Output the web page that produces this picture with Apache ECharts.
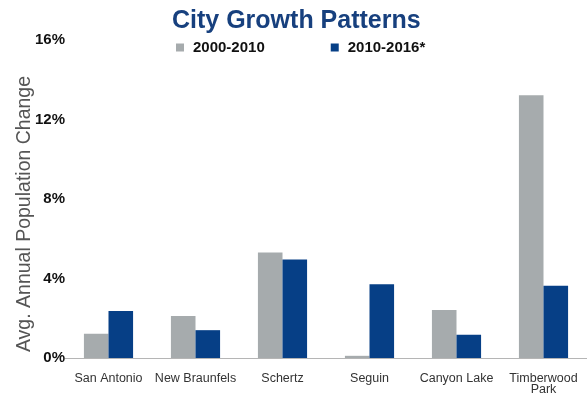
<!DOCTYPE html>
<html>
<head>
<meta charset="utf-8">
<script src="https://cdn.jsdelivr.net/npm/echarts@6/dist/echarts.min.js"></script>
<style>
  html, body { margin: 0; padding: 0; background: #fff; }
  #chart { width: 587px; height: 394px; }
</style>
</head>
<body>
<div id="chart"></div>
<script>
// City growth: average annual population change by city (%)
const cities = ['San Antonio', 'New Braunfels', 'Schertz', 'Seguin', 'Canyon Lake', 'Timberwood\nPark'];
const growth2000to2010 = [1.22, 2.11, 5.31, 0.11, 2.41, 13.22];
const growth2010to2016 = [2.36, 1.40, 4.96, 3.71, 1.17, 3.63];
const seriesNames = ['2000-2010', '2010-2016*'];
const yTicks = { min: 0, max: 16, interval: 4 };

const chart = echarts.init(document.getElementById('chart'), null, { renderer: 'canvas' });

const font = 'Liberation Sans, Arial, Helvetica, sans-serif';

chart.setOption({
  animation: false,
  textStyle: { fontFamily: font },
  title: {
    text: 'City Growth Patterns',
    left: 167,
    top: 4,
    textStyle: { fontFamily: font, fontSize: 25, fontWeight: 'bold', color: '#17407e' }
  },
  legend: {
    left: 171,
    top: 35,
    itemWidth: 8,
    itemHeight: 8,
    itemGap: 66,
    icon: 'rect',
    textStyle: { fontFamily: font, fontSize: 15, fontWeight: 'bold', color: '#111', padding: [0, 0, 0, 4] },
    data: seriesNames
  },
  grid: { left: 65, right: 0, top: 40, bottom: 36, outerBoundsMode: 'none', containLabel: false },
  xAxis: {
    type: 'category',
    data: cities,
    axisLine: { show: true, lineStyle: { color: '#b5b5b5', width: 1 } },
    axisTick: { show: false },
    axisLabel: {
      fontFamily: font,
      fontSize: 12.5,
      color: '#333',
      margin: 15,
      lineHeight: 11,
      interval: 0
    }
  },
  yAxis: {
    type: 'value',
    min: yTicks.min,
    max: yTicks.max,
    interval: yTicks.interval,
    name: 'Avg. Annual Population Change',
    nameLocation: 'middle',
    nameGap: 30,
    nameMoveOverlap: false,
    nameTextStyle: { fontFamily: font, fontSize: 19.5, color: '#555', padding: [0, 30, 0, 0] },
    axisLine: { show: false },
    axisTick: { show: false },
    splitLine: { show: false },
    axisLabel: {
      fontFamily: font,
      fontSize: 15,
      fontWeight: 'bold',
      color: '#111',
      margin: 0,
      formatter: '{value}%'
    }
  },
  series: [
    {
      name: seriesNames[0],
      type: 'bar',
      data: growth2000to2010,
      barGap: '0%',
      barCategoryGap: '43.5%',
      itemStyle: { color: '#a6abad' }
    },
    {
      name: seriesNames[1],
      type: 'bar',
      data: growth2010to2016,
      itemStyle: { color: '#063f86' }
    }
  ]
});
</script>
</body>
</html>
